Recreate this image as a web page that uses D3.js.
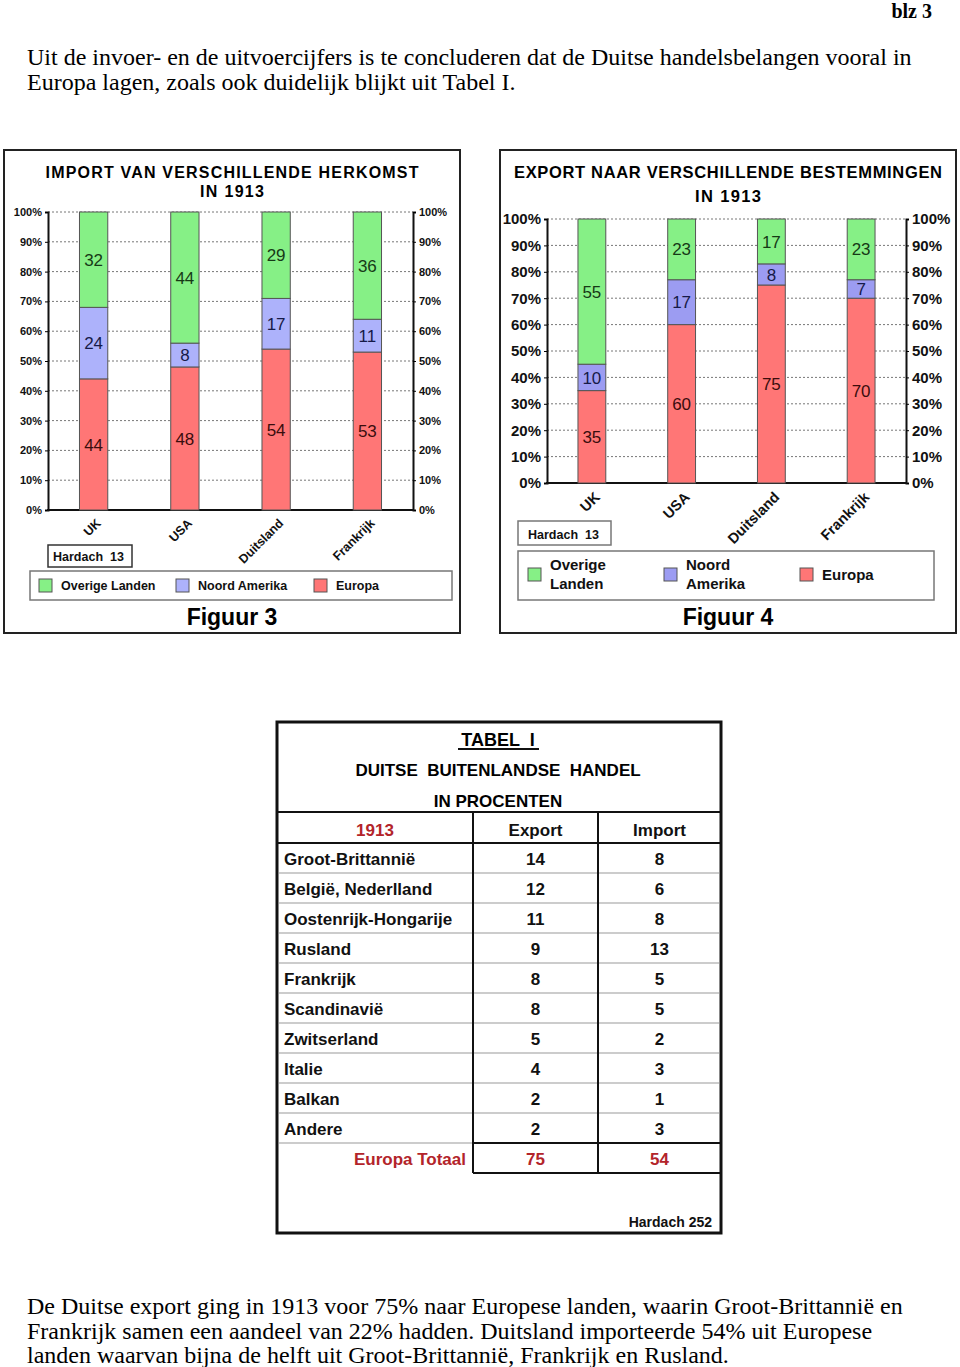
<!DOCTYPE html>
<html>
<head>
<meta charset="utf-8">
<script src="https://cdn.jsdelivr.net/npm/d3@7"></script>
<style>
  body { margin: 0; background: #fff; }
  svg { display: block; }
</style>
</head>
<body>
<script>
// gegevens
const categories = ["UK", "USA", "Duitsland", "Frankrijk"];
const seriesKeys = ["Europa", "Noord Amerika", "Overige Landen"];
const importEuropa = [44, 48, 54, 53];
const importNoordAmerika = [24, 8, 17, 11];
const importOverige = [32, 44, 29, 36];
const exportEuropa = [35, 60, 75, 70];
const exportNoordAmerika = [10, 17, 8, 7];
const exportOverige = [55, 23, 17, 23];
const yTicks = [0, 10, 20, 30, 40, 50, 60, 70, 80, 90, 100];

const tabelLanden = ["Groot-Brittannië", "België, Nederlland", "Oostenrijk-Hongarije", "Rusland",
  "Frankrijk", "Scandinavië", "Zwitserland", "Italie", "Balkan", "Andere"];
const tabelExport = [14, 12, 11, 9, 8, 8, 5, 4, 2, 2];
const tabelImport = [8, 6, 8, 13, 5, 5, 2, 3, 1, 3];
const tabelTotaal = ["Europa Totaal", 75, 54];
const tabelKoppen = ["1913", "Export", "Import"];

const tekstBoven = ["Uit de invoer- en de uitvoercijfers is te concluderen dat de Duitse handelsbelangen vooral in",
  "Europa lagen, zoals ook duidelijk blijkt uit Tabel I."];
const tekstOnder = ["De Duitse export ging in 1913 voor 75% naar Europese landen, waarin Groot-Brittannië en",
  "Frankrijk samen een aandeel van 22% hadden. Duitsland importeerde 54% uit Europese",
  "landen waarvan bijna de helft uit Groot-Brittannië, Frankrijk en Rusland."];

const sans = "'Liberation Sans', Arial, sans-serif";
const serif = "'Liberation Serif', 'Times New Roman', serif";

const svg = d3.select("body").append("svg")
  .attr("width", 960).attr("height", 1367)
  .style("background-color", "white");

// kop en tekst
svg.append("text").attr("x", 932).attr("y", 18).attr("text-anchor", "end")
  .style("font-family", serif).style("font-weight", "bold").style("font-size", "20px")
  .text("blz 3");
svg.selectAll(".boven").data(tekstBoven).enter().append("text")
  .attr("x", 27).attr("y", (d, i) => 65 + i * 24.5)
  .style("font-family", serif).style("font-size", "24px").text(d => d);
svg.selectAll(".onder").data(tekstOnder).enter().append("text")
  .attr("x", 27).attr("y", (d, i) => 1314 + i * 24.5)
  .style("font-family", serif).style("font-size", "24px").text(d => d);

function drawChart(p) {
  const g = svg.append("g");
  g.append("rect").attr("x", p.frame[0]).attr("y", p.frame[1])
    .attr("width", p.frame[2] - p.frame[0]).attr("height", p.frame[3] - p.frame[1])
    .attr("fill", "white").attr("stroke", "#222").attr("stroke-width", 2);

  // titel
  g.selectAll(".titel").data(p.titel).enter().append("text")
    .attr("x", p.cx).attr("y", (d, i) => p.titelY[i])
    .attr("text-anchor", "middle")
    .attr("textLength", (d, i) => p.titelW[i]).attr("lengthAdjust", "spacing")
    .style("font-family", sans).style("font-weight", "bold").style("font-size", p.titelSize + "px")
    .text(d => d);

  const rows = categories.map((c, i) => ({
    cat: c, "Europa": p.europa[i], "Noord Amerika": p.na[i], "Overige Landen": p.overig[i]
  }));
  const stack = d3.stack().keys(seriesKeys)(rows);

  const x = d3.scaleBand().domain(categories).range([p.left, p.right])
    .paddingInner(0.69).paddingOuter(0.345);
  const y = d3.scaleLinear().domain([0, 100]).range([p.bottom, p.top]);

  // rasterlijnen
  g.selectAll(".grid").data(yTicks.filter(t => t > 0)).enter().append("line")
    .attr("x1", p.left).attr("x2", p.right)
    .attr("y1", d => y(d)).attr("y2", d => y(d))
    .attr("stroke", "#777").attr("stroke-width", 1).attr("stroke-dasharray", "2,2");

  // assen
  const axL = g.append("g").attr("transform", `translate(${p.left},0)`)
    .call(d3.axisLeft(y).tickValues(yTicks).tickFormat(d => d + "%").tickSize(3).tickPadding(3));
  const axR = g.append("g").attr("transform", `translate(${p.right},0)`)
    .call(d3.axisRight(y).tickValues(yTicks).tickFormat(d => d + "%").tickSize(3).tickPadding(p.rPad));
  [axL, axR].forEach(a => {
    a.select(".domain").attr("stroke", "#111").attr("stroke-width", 2);
    a.selectAll("text").style("font-family", sans).style("font-weight", "bold")
      .style("font-size", p.tickSize + "px").attr("fill", "#111");
  });
  g.append("line").attr("x1", p.left - 1).attr("x2", p.right + 1)
    .attr("y1", p.bottom).attr("y2", p.bottom).attr("stroke", "#111").attr("stroke-width", 2);

  // staven
  const lagen = g.selectAll(".laag").data(stack).enter().append("g");
  lagen.selectAll("rect").data(s => s.map(d => ({ d: d, key: s.key }))).enter().append("rect")
    .attr("x", d => x(d.d.data.cat))
    .attr("y", d => y(d.d[1]))
    .attr("width", x.bandwidth())
    .attr("height", d => y(d.d[0]) - y(d.d[1]))
    .attr("fill", d => p.kleuren[d.key])
    .attr("stroke", "#555").attr("stroke-width", 1);
  lagen.selectAll("text").data(s => s.map(d => ({ d: d, key: s.key }))).enter().append("text")
    .attr("x", d => x(d.d.data.cat) + x.bandwidth() / 2)
    .attr("y", d => y((d.d[0] + d.d[1]) / 2))
    .attr("dy", "0.36em")
    .attr("text-anchor", "middle")
    .style("font-family", sans).style("font-size", p.valSize + "px")
    .attr("fill", d => p.tekstKleuren[d.key])
    .text(d => d.d[1] - d.d[0]);

  // categorie labels
  g.selectAll(".cat").data(categories).enter().append("text")
    .attr("transform", d => `translate(${x(d) + x.bandwidth() / 2 + p.catDx},${p.bottom + p.catDy}) rotate(-45)`)
    .attr("text-anchor", "end")
    .style("font-family", sans).style("font-weight", "bold").style("font-size", p.catSize + "px")
    .attr("fill", "#111")
    .text(d => d);

  // bron
  g.append("rect").attr("x", p.bron[0]).attr("y", p.bron[1])
    .attr("width", p.bron[2] - p.bron[0]).attr("height", p.bron[3] - p.bron[1])
    .attr("fill", "white").attr("stroke", p.bronStroke).attr("stroke-width", 1.5);
  g.append("text").attr("x", p.bron[0] + p.bronTx).attr("y", p.bron[3] - 6)
    .style("font-family", sans).style("font-weight", "bold").style("font-size", "12.5px")
    .attr("fill", "#111").attr("xml:space", "preserve").text("Hardach  13");

  // legenda
  g.append("rect").attr("x", p.leg[0]).attr("y", p.leg[1])
    .attr("width", p.leg[2] - p.leg[0]).attr("height", p.leg[3] - p.leg[1])
    .attr("fill", "white").attr("stroke", "#777").attr("stroke-width", 1.5);
  const legKeys = ["Overige Landen", "Noord Amerika", "Europa"];
  const items = g.selectAll(".leg").data(legKeys).enter().append("g")
    .attr("transform", (d, i) => `translate(${p.legX[i]},${p.legSqY})`);
  items.append("rect").attr("width", 13).attr("height", 13)
    .attr("fill", d => p.kleuren[d]).attr("stroke", "#555");
  items.each(function (d, i) {
    const lines = p.legLines[i];
    d3.select(this).selectAll("text").data(lines).enter().append("text")
      .attr("x", 22)
      .attr("y", (t, j) => 6.5 + (j - (lines.length - 1) / 2) * p.legLineH)
      .attr("dy", "0.36em")
      .style("font-family", sans).style("font-weight", "bold").style("font-size", p.legSize + "px")
      .attr("fill", "#111").text(t => t);
  });

  g.append("text").attr("x", p.cx).attr("y", 625).attr("text-anchor", "middle")
    .style("font-family", sans).style("font-weight", "bold").style("font-size", "23px")
    .text(p.figuur);
}

drawChart({
  frame: [4, 150, 460, 633], cx: 232,
  titel: ["IMPORT  VAN  VERSCHILLENDE  HERKOMST", "IN  1913"], titelY: [178, 197], titelW: [373, 64], titelSize: 16,
  left: 48, right: 413, top: 212, bottom: 510,
  europa: importEuropa, na: importNoordAmerika, overig: importOverige,
  kleuren: { "Europa": "#ff7676", "Noord Amerika": "#adb2fb", "Overige Landen": "#86f086" },
  tekstKleuren: { "Europa": "#3a0d0d", "Noord Amerika": "#161a48", "Overige Landen": "#163a16" },
  tickSize: 11, rPad: 3, valSize: 17, catSize: 12.5, catDx: 8, catDy: 14,
  bron: [48, 545, 132, 567], bronStroke: "#333", bronTx: 5,
  leg: [30, 571, 452, 600], legX: [39, 176, 314], legSqY: 579, legSize: 12.5,
  legLines: [["Overige Landen"], ["Noord Amerika"], ["Europa"]], legLineH: 0,
  figuur: "Figuur 3"
});

drawChart({
  frame: [500, 150, 956, 633], cx: 728,
  titel: ["EXPORT NAAR  VERSCHILLENDE BESTEMMINGEN", "IN  1913"], titelY: [178, 202], titelW: [428, 66], titelSize: 16.5,
  left: 547, right: 906, top: 219, bottom: 483,
  europa: exportEuropa, na: exportNoordAmerika, overig: exportOverige,
  kleuren: { "Europa": "#ff7676", "Noord Amerika": "#9c9cf2", "Overige Landen": "#86f086" },
  tekstKleuren: { "Europa": "#3a0d0d", "Noord Amerika": "#161a48", "Overige Landen": "#163a16" },
  tickSize: 15, rPad: 3, valSize: 17, catSize: 14.5, catDx: 9, catDy: 15,
  bron: [518, 521, 611, 545], bronStroke: "#777", bronTx: 10,
  leg: [518, 551, 934, 600], legX: [528, 664, 800], legSqY: 568, legSize: 15,
  legLines: [["Overige", "Landen"], ["Noord", "Amerika"], ["Europa"]], legLineH: 19,
  figuur: "Figuur 4"
});

// tabel
const tb = { x0: 277, x1: 473, x2: 598, x3: 721, y0: 722, yKop: 812, yRij: 843, rijH: 30, y1: 1233 };
const tg = svg.append("g");
const bold = s => s.style("font-family", sans).style("font-weight", "bold");

tg.append("rect").attr("x", tb.x0).attr("y", tb.y0).attr("width", tb.x3 - tb.x0).attr("height", tb.y1 - tb.y0)
  .attr("fill", "white").attr("stroke", "#111").attr("stroke-width", 3);
tg.append("text").attr("x", 498).attr("y", 746).attr("text-anchor", "middle")
  .call(bold).style("font-size", "18px")
  .attr("xml:space", "preserve").text("TABEL  I");
tg.append("line").attr("x1", 458).attr("x2", 539).attr("y1", 749).attr("y2", 749)
  .attr("stroke", "#111").attr("stroke-width", 2);
tg.append("text").attr("x", 498).attr("y", 776).attr("text-anchor", "middle")
  .call(bold).style("font-size", "17px").attr("xml:space", "preserve").text("DUITSE  BUITENLANDSE  HANDEL");
tg.append("text").attr("x", 498).attr("y", 807).attr("text-anchor", "middle")
  .call(bold).style("font-size", "17px").text("IN PROCENTEN");

const nRij = tabelLanden.length;
const rijY = i => tb.yRij + i * tb.rijH;
// grijze rijlijnen
tg.selectAll(".rijlijn").data(d3.range(1, nRij + 1)).enter().append("line")
  .attr("x1", tb.x0 + 2).attr("x2", tb.x3 - 2)
  .attr("y1", d => rijY(d)).attr("y2", d => rijY(d))
  .attr("stroke", "#bbb").attr("stroke-width", 1.5);
// dikke lijnen
const dik = [[tb.x0, tb.yKop, tb.x3, tb.yKop], [tb.x0, tb.yRij, tb.x3, tb.yRij],
  [tb.x1, rijY(nRij), tb.x3, rijY(nRij)], [tb.x1, rijY(nRij + 1), tb.x3, rijY(nRij + 1)],
  [tb.x1, tb.yKop, tb.x1, rijY(nRij + 1)], [tb.x2, tb.yKop, tb.x2, rijY(nRij + 1)]];
tg.selectAll(".dik").data(dik).enter().append("line")
  .attr("x1", d => d[0]).attr("y1", d => d[1]).attr("x2", d => d[2]).attr("y2", d => d[3])
  .attr("stroke", "#111").attr("stroke-width", 2);

const colX = [(tb.x0 + tb.x1) / 2, (tb.x1 + tb.x2) / 2, (tb.x2 + tb.x3) / 2];
tg.selectAll(".kop").data(tabelKoppen).enter().append("text")
  .attr("x", (d, i) => colX[i]).attr("y", 836).attr("text-anchor", "middle")
  .call(bold).style("font-size", "17px").attr("fill", (d, i) => i === 0 ? "#b3242a" : "#111")
  .text(d => d);

const rijen = tabelLanden.map((l, i) => [l, tabelExport[i], tabelImport[i]]);
const rg = tg.selectAll(".rij").data(rijen).enter().append("g")
  .attr("transform", (d, i) => `translate(0,${rijY(i) + tb.rijH / 2 + 7})`);
rg.append("text").attr("x", tb.x0 + 7).call(bold).style("font-size", "17px").attr("fill", "#111").text(d => d[0]);
rg.append("text").attr("x", colX[1]).attr("text-anchor", "middle").call(bold).style("font-size", "17px").attr("fill", "#111").text(d => d[1]);
rg.append("text").attr("x", colX[2]).attr("text-anchor", "middle").call(bold).style("font-size", "17px").attr("fill", "#111").text(d => d[2]);

const ty = rijY(nRij) + tb.rijH / 2 + 7;
tg.append("text").attr("x", tb.x1 - 7).attr("y", ty).attr("text-anchor", "end")
  .call(bold).style("font-size", "17px").attr("fill", "#b3242a").text(tabelTotaal[0]);
tg.append("text").attr("x", colX[1]).attr("y", ty).attr("text-anchor", "middle")
  .call(bold).style("font-size", "17px").attr("fill", "#b3242a").text(tabelTotaal[1]);
tg.append("text").attr("x", colX[2]).attr("y", ty).attr("text-anchor", "middle")
  .call(bold).style("font-size", "17px").attr("fill", "#b3242a").text(tabelTotaal[2]);

tg.append("text").attr("x", 712).attr("y", 1227).attr("text-anchor", "end")
  .call(bold).style("font-size", "14px").attr("fill", "#111").text("Hardach 252");
</script>
</body>
</html>
